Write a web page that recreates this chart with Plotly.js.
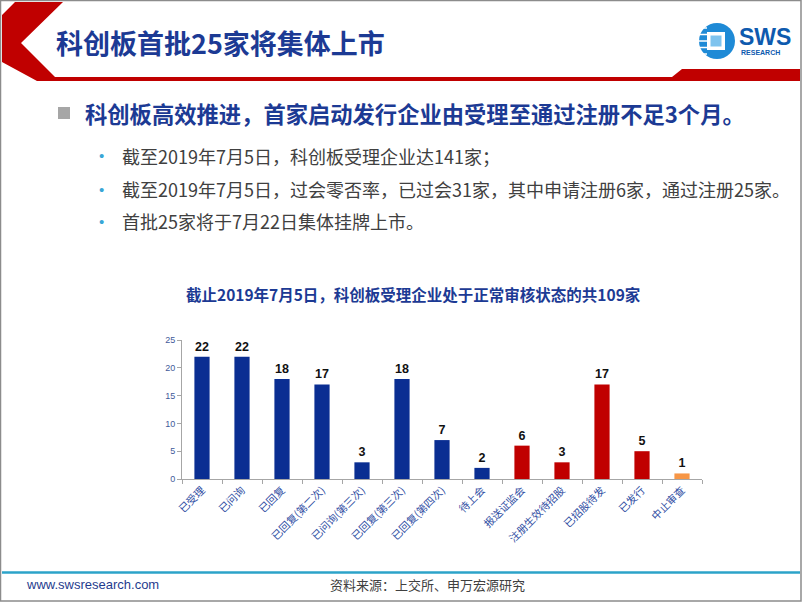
<!DOCTYPE html>
<html>
<head>
<meta charset="utf-8">
<script src="https://cdn.plot.ly/plotly-3.0.1.min.js"></script>
<style>html,body{margin:0;padding:0;background:#fff;}#chart{width:802px;height:602px;}</style>
</head>
<body>
<div id="chart"></div>
<script>
// ---- data ----
const categories = ["已受理","已问询","已回复","已回复(第二次)","已问询(第三次)","已回复(第三次)","已回复(第四次)","待上会","报送证监会","注册生效待招股","已招股待发","已发行","中止审查"];
const counts = [22,22,18,17,3,18,7,2,6,3,17,5,1];
const statusGroup = ["review","review","review","review","review","review","review","review","register","register","register","register","halt"];
const groupColors = {review:"#0A2E92", register:"#C00000", halt:"#F79646"};

const slideTitle = "科创板首批25家将集体上市";
const headline = "科创板高效推进，首家启动发行企业由受理至通过注册不足3个月。";
const bullets = ["截至2019年7月5日，科创板受理企业达141家；","截至2019年7月5日，过会零否率，已过会31家，其中申请注册6家，通过注册25家。","首批25家将于7月22日集体挂牌上市。"];
const chartTitle = "截止2019年7月5日，科创板受理企业处于正常审核状态的共109家";
const sourceText = "资料来源：上交所、申万宏源研究";
const siteText = "www.swsresearch.com";

// ---- layout helpers (pixel -> paper) ----
const W=802,H=602,ML=182,MR=100,MT=340,MB=123;
const PW=W-ML-MR, PH=H-MT-MB;
const X=px=>(px-ML)/PW, Y=py=>(H-MB-py)/PH;
const CJK='"Noto Sans CJK SC", "Noto Sans", sans-serif';
const DB='#1C3A94';

const trace = {
  type:'bar', x:categories, y:counts,
  marker:{color:statusGroup.map(g=>groupColors[g])},
  text:counts.map(String), textposition:'outside', cliponaxis:false,
  textfont:{family:'"Liberation Sans", Arial, sans-serif', size:12.5, color:'#111', weight:'bold'},
  hoverinfo:'x+y'
};

function path(pts){return 'M '+pts.map(p=>X(p[0])+' '+Y(p[1])).join(' L ')+' Z';}

const shapes = [
  {type:'rect',xref:'paper',yref:'paper',x0:X(0.5),x1:X(801),y0:Y(0.5),y1:Y(601),line:{color:'#8C8C8C',width:1.5},fillcolor:'rgba(0,0,0,0)',layer:'below'},
  {type:'path',xref:'paper',yref:'paper',path:path([[15,2],[63,2],[21,43],[55,77],[672,77],[682,69],[800,69],[800,81],[37,81],[2,62],[2,15]]),fillcolor:'#C00000',line:{width:0},layer:'below'},
  {type:'line',xref:'paper',yref:'paper',x0:X(2),x1:X(800),y0:Y(572.5),y1:Y(572.5),line:{color:'#2CA3C9',width:2.5}},
  {type:'rect',xref:'paper',yref:'paper',x0:X(58),x1:X(70),y0:Y(107),y1:Y(119),fillcolor:'#A6A6A6',line:{width:0}},
  {type:'circle',xref:'paper',yref:'paper',x0:X(699),x1:X(735),y0:Y(23),y1:Y(59),fillcolor:'#1E8AD6',line:{width:0}},
  {type:'rect',xref:'paper',yref:'paper',x0:X(707),x1:X(725),y0:Y(32),y1:Y(50),fillcolor:'#FFFFFF',line:{width:0}},
  {type:'rect',xref:'paper',yref:'paper',x0:X(710),x1:X(722),y0:Y(35),y1:Y(47),fillcolor:'#7EC3EE',line:{color:'#FFFFFF',width:1}}
];
for(let i=0;i<5;i++){
  const yy=28+i*6.5;
  shapes.push({type:'line',xref:'paper',yref:'paper',x0:X(699),x1:X(707),y0:Y(yy),y1:Y(yy),line:{color:'#FFFFFF',width:1.5}});
}

const annotations = [
  {text:slideTitle,x:X(54),y:Y(42),xanchor:'left',yanchor:'middle',font:{family:CJK,size:27,color:DB,weight:'bold'}},
  {text:'SWS',x:X(737),y:Y(37),xanchor:'left',yanchor:'middle',font:{family:'"Liberation Sans", Arial, sans-serif',size:23,color:'#0E5AAE',weight:'bold'}},
  {text:'RESEARCH',x:X(739),y:Y(52),xanchor:'left',yanchor:'middle',font:{family:'"Liberation Sans", Arial, sans-serif',size:7,color:'#0E5AAE',weight:'bold'}},
  {text:headline,x:X(83),y:Y(113),xanchor:'left',yanchor:'middle',font:{family:CJK,size:22.3,color:DB,weight:'bold'}},
  {text:chartTitle,x:X(413),y:Y(294),xanchor:'center',yanchor:'middle',font:{family:CJK,size:15.5,color:DB,weight:'bold'}},
  {text:siteText,x:X(24),y:Y(584),xanchor:'left',yanchor:'middle',font:{family:'"Liberation Sans", Arial, sans-serif',size:13,color:'#1F3C8E'}},
  {text:sourceText,x:X(427),y:Y(584),xanchor:'center',yanchor:'middle',font:{family:CJK,size:13,color:'#404040'}}
];
const bulletY=[156,189,221];
bullets.forEach((b,i)=>{
  annotations.push({text:'•',x:X(101),y:Y(bulletY[i]),xanchor:'center',yanchor:'middle',font:{family:'"Liberation Sans", Arial',size:15,color:'#3AA6D6'}});
  annotations.push({text:b,x:X(120),y:Y(bulletY[i]),xanchor:'left',yanchor:'middle',font:{family:CJK,size:18,color:'#404040'}});
});
annotations.forEach(a=>{a.xref='paper';a.yref='paper';a.showarrow=false;});

const layout = {
  width:W,height:H,margin:{l:ML,r:MR,t:MT,b:MB,pad:0},
  paper_bgcolor:'#FFFFFF',plot_bgcolor:'#FFFFFF',
  showlegend:false,bargap:0.62,
  xaxis:{type:'category',tickangle:-45,tickson:'boundaries',ticks:'outside',ticklen:4,tickcolor:'#A6A6A6',
         showline:true,linecolor:'#A6A6A6',linewidth:1,showgrid:false,zeroline:false,
         tickfont:{family:CJK,size:10.5,color:'#2F4EA3'},automargin:false},
  yaxis:{range:[0,25],dtick:5,ticks:'outside',ticklen:4,tickcolor:'#A6A6A6',showline:true,linecolor:'#A6A6A6',linewidth:1,
         showgrid:false,zeroline:false,tickfont:{family:'"Liberation Sans", Arial, sans-serif',size:9,color:'#3F5A9A'},automargin:false},
  shapes:shapes,annotations:annotations
};
Plotly.newPlot('chart',[trace],layout,{displayModeBar:false,staticPlot:true});
</script>
</body>
</html>
